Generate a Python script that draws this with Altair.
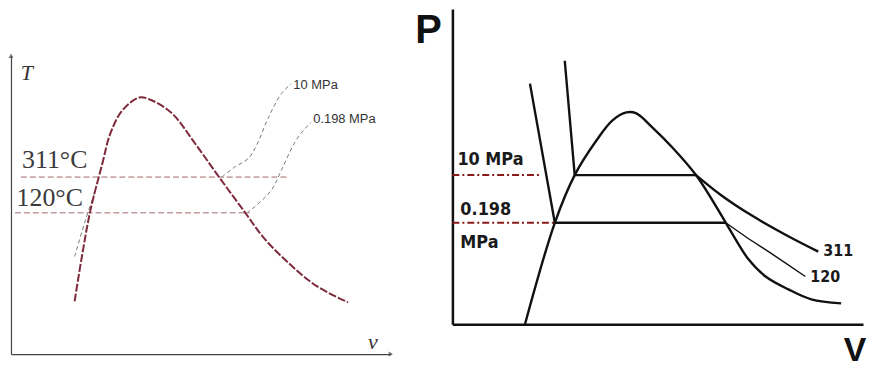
import altair as alt
import pandas as pd

# ---------------- Left panel: T-v diagram (arbitrary units) ----------------
dome_v = [64, 72, 80, 92, 100, 112, 129, 142, 162, 185, 210, 235, 255, 282, 308, 339]
dome_T = [53, 102, 145, 192, 222, 245, 258, 255, 242, 212, 177, 143, 116, 89, 68, 52]

iso10_v = [212, 225, 239, 247, 259, 272, 282]
iso10_T = [178, 188, 197, 210, 238, 262, 272]

iso0198_v = [237, 245, 262, 272, 285, 295, 302]
iso0198_T = [142, 148, 165, 185, 212, 226, 233]

liq_v = [64, 75, 85]
liq_T = [98, 135, 165]

h311_v = [10, 277]
h311_T = [178, 178]
h120_v = [4, 240]
h120_T = [142, 142]

left_labels = ["311°C", "120°C"]
left_label_v = [44, 39]
left_label_T = [195, 157]
iso_labels = ["10 MPa", "0.198 MPa"]
iso_label_v = [284, 304]
iso_label_T = [271, 236]

# ---------------- Right panel: P-V diagram (arbitrary units) ----------------
pdome_V = [73, 103, 123, 145, 161, 175, 185, 201, 221, 245, 275, 285, 298, 315, 338, 361, 391]
pdome_P = [0, 102, 150, 185, 205, 213, 212, 198, 178, 150, 102, 85, 65, 48, 35, 25, 21]

t311_V = [113, 123, 245]
t311_P = [265, 150, 150]
t311_tail_V = [245, 270, 300, 335, 368]
t311_tail_P = [150, 130, 110, 90, 73]

t120_V = [78, 103, 275]
t120_P = [242, 102, 102]
t120_tail_V = [275, 295, 321, 355]
t120_tail_P = [102, 88, 71, 48]

p10_V = [0, 88]
p10_P = [150, 150]
p0198_V = [0, 103]
p0198_P = [102, 102]

right_labels = ["10 MPa", "0.198", "MPa"]
right_label_V = [5, 8, 8]
right_label_P = [165, 115, 82]
iso_r_labels = ["311", "120"]
iso_r_V = [373, 360]
iso_r_P = [74, 47]


def line_df(xs, ys, name, xn, yn):
    return pd.DataFrame({xn: xs, yn: ys, "s": name, "o": list(range(len(xs)))})


# ===== Left chart =====
lx = alt.Scale(domain=[0, 382], range=[0, 382])
ly = alt.Scale(domain=[0, 300], range=[347, 47])
lax = alt.Axis(domain=True, ticks=False, labels=False, grid=False, title=None,
               domainColor="#444", domainWidth=1.2)


def lenc(base):
    return base.encode(
        x=alt.X("v:Q", scale=lx, axis=lax),
        y=alt.Y("T:Q", scale=ly, axis=lax),
    )


dome_l = lenc(alt.Chart(line_df(dome_v, dome_T, "dome", "v", "T")).mark_line(
    color="#7d2a3c", strokeWidth=2, strokeDash=[8, 2], interpolate="catmull-rom"
)).encode(order="o:Q")

iso_df = pd.concat([
    line_df(iso10_v, iso10_T, "a", "v", "T"),
    line_df(iso0198_v, iso0198_T, "b", "v", "T"),
    line_df(liq_v, liq_T, "c", "v", "T"),
])
isos_l = lenc(alt.Chart(iso_df).mark_line(
    color="#777777", strokeWidth=1, strokeDash=[4, 3], interpolate="catmull-rom"
)).encode(order="o:Q", detail="s:N")

h_df = pd.concat([
    line_df(h311_v, h311_T, "a", "v", "T"),
    line_df(h120_v, h120_T, "b", "v", "T"),
])
hl_l = lenc(alt.Chart(h_df).mark_line(
    color="#a06a6a", strokeWidth=1, strokeDash=[6, 3]
)).encode(order="o:Q", detail="s:N")

lab_l = lenc(alt.Chart(pd.DataFrame({"v": left_label_v, "T": left_label_T, "t": left_labels})).mark_text(
    font="Liberation Serif", fontSize=26, color="#3a3a3a", align="center", baseline="middle"
)).encode(text="t:N")

isolab_l = lenc(alt.Chart(pd.DataFrame({"v": iso_label_v, "T": iso_label_T, "t": iso_labels})).mark_text(
    font="Liberation Sans", fontSize=13, color="#333333", align="left", baseline="middle"
)).encode(text="t:N")

axlab_l = lenc(alt.Chart(pd.DataFrame({"v": [16, 364], "T": [283, 12], "t": ["T", "v"]})).mark_text(
    font="Liberation Serif", fontStyle="italic", fontSize=22, color="#333333", align="center", baseline="middle"
)).encode(text="t:N")

arrow_up = lenc(alt.Chart(pd.DataFrame({"v": [0], "T": [300]})).mark_point(
    shape="triangle-up", filled=True, size=25, color="#444"))
arrow_rt = lenc(alt.Chart(pd.DataFrame({"v": [382], "T": [0]})).mark_point(
    shape="triangle-right", filled=True, size=25, color="#444"))

left = alt.layer(hl_l, isos_l, dome_l, lab_l, isolab_l, axlab_l, arrow_up, arrow_rt).properties(
    width=382, height=347)

# ===== Right chart =====
rx = alt.Scale(domain=[0, 413])
ry = alt.Scale(domain=[0, 317])
rax = alt.Axis(domain=True, ticks=False, labels=False, grid=False, title=None,
               domainColor="#111111", domainWidth=2.5)


def renc(base):
    return base.encode(
        x=alt.X("V:Q", scale=rx, axis=rax),
        y=alt.Y("P:Q", scale=ry, axis=rax),
    )


curve_df = pd.concat([
    line_df(pdome_V, pdome_P, "dome", "V", "P"),
    line_df(t311_tail_V, t311_tail_P, "t311", "V", "P"),
])
curves_r = renc(alt.Chart(curve_df).mark_line(
    color="#111111", strokeWidth=2.4, interpolate="catmull-rom"
)).encode(order="o:Q", detail="s:N")

tail120_r = renc(alt.Chart(line_df(t120_tail_V, t120_tail_P, "t120", "V", "P")).mark_line(
    color="#111111", strokeWidth=1.4, interpolate="catmull-rom"
)).encode(order="o:Q")

straight_df = pd.concat([
    line_df(t311_V, t311_P, "a", "V", "P"),
    line_df(t120_V, t120_P, "b", "V", "P"),
])
straight_r = renc(alt.Chart(straight_df).mark_line(
    color="#111111", strokeWidth=2.4
)).encode(order="o:Q", detail="s:N")

red_df = pd.concat([
    line_df(p10_V, p10_P, "a", "V", "P"),
    line_df(p0198_V, p0198_P, "b", "V", "P"),
])
red_r = renc(alt.Chart(red_df).mark_line(
    color="#8b1a1a", strokeWidth=2, strokeDash=[7, 3, 2, 3]
)).encode(order="o:Q", detail="s:N")

lab_r = renc(alt.Chart(pd.DataFrame({"V": right_label_V, "P": right_label_P, "t": right_labels})).mark_text(
    font="DejaVu Sans Condensed", fontWeight="bold", fontSize=18, color="#1a1a1a",
    align="left", baseline="middle"
)).encode(text="t:N")

isolab_r = renc(alt.Chart(pd.DataFrame({"V": iso_r_V, "P": iso_r_P, "t": iso_r_labels})).mark_text(
    font="DejaVu Sans Condensed", fontWeight="bold", fontSize=16, color="#1a1a1a",
    align="left", baseline="middle"
)).encode(text="t:N")

axlab_r = renc(alt.Chart(pd.DataFrame({"V": [-24, 405], "P": [295, -27], "t": ["P", "V"], "sz": [40, 34]})).mark_text(
    font="Liberation Sans", fontWeight="bold", color="#111111", align="center", baseline="middle"
)).encode(text="t:N", size=alt.Size("sz:Q", scale=None, legend=None))

right = alt.layer(red_r, straight_r, curves_r, tail120_r, lab_r, isolab_r, axlab_r).properties(
    width=413, height=317)

chart = alt.hconcat(left, right, spacing=62, bounds="flush").properties(
    padding=0
).configure_view(stroke=None)

chart.save("out.html", embed_options={"renderer": "svg", "actions": False})
